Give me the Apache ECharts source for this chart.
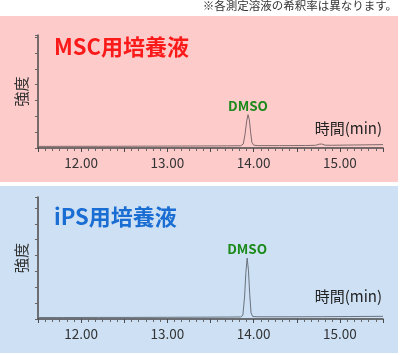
<!DOCTYPE html>
<html>
<head>
<meta charset="utf-8">
<script src="https://cdn.jsdelivr.net/npm/echarts@6/dist/echarts.min.js"></script>
<style>
  html, body { margin: 0; padding: 0; background: #fff; }
  #main { width: 400px; height: 355px; }
</style>
</head>
<body>
<div id="main"></div>
<script>
// panel titles / labels
var panelTitles = ['MSC用培養液', 'iPS用培養液'];
var peakName = 'DMSO';
var xTicks = [12, 13, 14, 15];

// chromatogram points [time(min), intensity]
var mscData = [
  [11.5, 1.4], [11.8, 1.5], [12.2, 1.5], [12.6, 1.6], [13.0, 1.7], [13.4, 1.8],
  [13.7, 1.9], [13.85, 2.0], [13.88, 3.5], [13.9, 12], [13.92, 24], [13.935, 29.5],
  [13.95, 25], [13.965, 14], [13.98, 5], [14.0, 2.5], [14.05, 2.1], [14.3, 2.1],
  [14.6, 2.2], [14.72, 2.4], [14.76, 3.4], [14.79, 3.5], [14.83, 2.5], [14.9, 2.4],
  [15.1, 2.6], [15.3, 2.8], [15.5, 3.0]
];
var ipsData = [
  [11.5, 1.2], [11.8, 1.2], [12.2, 1.3], [12.6, 1.3], [13.0, 1.4], [13.4, 1.5],
  [13.7, 1.6], [13.85, 1.7], [13.875, 3], [13.895, 18], [13.91, 38], [13.925, 50],
  [13.94, 40], [13.955, 20], [13.97, 5], [13.99, 2.0], [14.05, 1.8], [14.4, 1.8],
  [14.8, 1.9], [15.1, 2.0], [15.5, 2.2]
];
var mscPeak = [13.935, 29.5];
var ipsPeak = [13.925, 50];

var font = 'Noto Sans CJK JP';
var axisCol = '#4a4a4a';

function xAxisCfg(grid) {
  return {
    type: 'value', gridIndex: grid, min: 11.5, max: 15.5, interval: 0.5,
    axisLine: { show: true, onZero: false, lineStyle: { color: axisCol, width: 1.5 } },
    axisTick: { show: true, length: 4, lineStyle: { color: axisCol } },
    minorTick: { show: true, splitNumber: 6, length: 3, lineStyle: { color: '#666' } },
    splitLine: { show: false },
    axisLabel: {
      color: '#333', fontSize: 13.5, fontFamily: font, margin: 8,
      formatter: function (v) { return xTicks.indexOf(v) >= 0 ? v.toFixed(2) : ''; }
    }
  };
}
function yAxisCfg(grid, step) {
  return {
    type: 'value', gridIndex: grid, min: 0, max: 100, interval: step,
    name: '強度', nameLocation: 'middle', nameRotate: 90, nameGap: 9,
    nameTextStyle: { color: '#333', fontSize: 15, fontFamily: font },
    axisLine: { show: true, lineStyle: { color: axisCol, width: 1.5 } },
    axisTick: { show: true, length: 3, lineStyle: { color: '#666' } },
    axisLabel: { show: false },
    splitLine: { show: false }
  };
}
function peakMark(pt) {
  return {
    symbol: 'circle', symbolSize: 0,
    label: {
      show: true, position: 'top', distance: 2, formatter: peakName,
      color: '#1a8a1a', fontWeight: 'bold', fontSize: 13.5, fontFamily: font
    },
    data: [{ coord: pt }]
  };
}

var myChart = echarts.init(document.getElementById('main'), null, { renderer: 'canvas' });
myChart.setOption({
  animation: false,
  backgroundColor: '#ffffff',
  graphic: [
    { type: 'rect', z: -10, shape: { x: 0, y: 16, width: 398, height: 166 }, style: { fill: '#fecbcb' } },
    { type: 'rect', z: -10, shape: { x: 0, y: 186, width: 398, height: 167 }, style: { fill: '#cde0f4' } },
    { type: 'text', right: 3, top: 0, style: { text: '※各測定溶液の希釈率は異なります。', fill: '#333', font: '11.5px "' + font + '"' } },
    { type: 'text', right: 18, top: 121, style: { text: '時間(min)', fill: '#222', font: '15px "' + font + '"' } },
    { type: 'text', right: 18, top: 289, style: { text: '時間(min)', fill: '#222', font: '15px "' + font + '"' } }
  ],
  title: [
    { text: panelTitles[0], left: 49, top: 31, textStyle: { color: '#fb1a1a', fontSize: 22, fontWeight: 'bold', fontFamily: font } },
    { text: panelTitles[1], left: 49, top: 201, textStyle: { color: '#1a6dd2', fontSize: 22, fontWeight: 'bold', fontFamily: font } }
  ],
  grid: [
    { left: 38, top: 35, width: 345, height: 113 },
    { left: 38, top: 197, width: 345, height: 122 }
  ],
  xAxis: [xAxisCfg(0), xAxisCfg(1)],
  yAxis: [yAxisCfg(0, 14), yAxisCfg(1, 13)],
  series: [
    {
      type: 'line', xAxisIndex: 0, yAxisIndex: 0, data: mscData, showSymbol: false,
      lineStyle: { color: '#7d6a6c', width: 1 }, markPoint: peakMark(mscPeak)
    },
    {
      type: 'line', xAxisIndex: 1, yAxisIndex: 1, data: ipsData, showSymbol: false,
      lineStyle: { color: '#6a737d', width: 1 }, markPoint: peakMark(ipsPeak)
    }
  ]
});
</script>
</body>
</html>
